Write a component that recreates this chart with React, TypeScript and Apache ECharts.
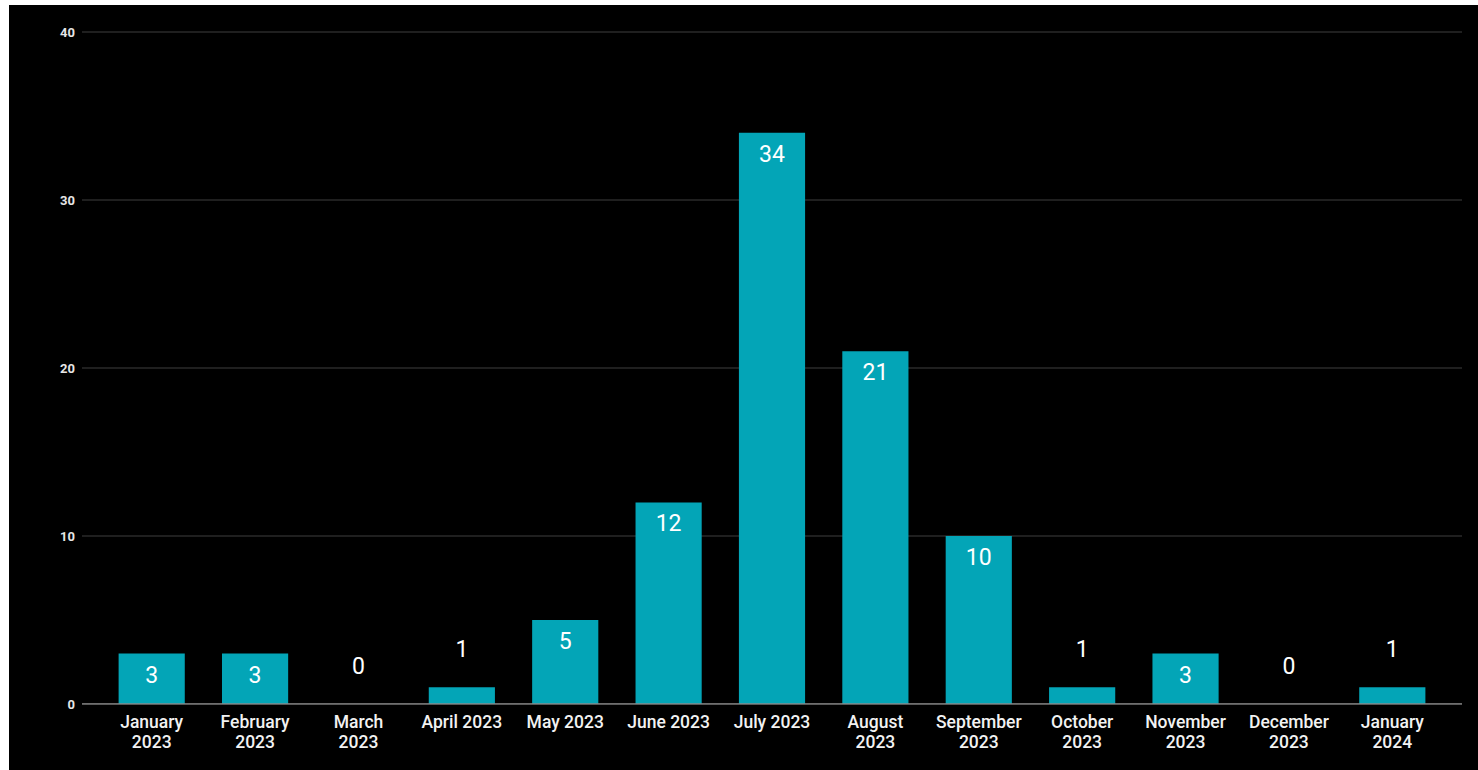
import React, { useEffect, useRef } from "react";
import * as echarts from "echarts";

const categories = [
  "January\n2023",
  "February\n2023",
  "March\n2023",
  "April 2023",
  "May 2023",
  "June 2023",
  "July 2023",
  "August\n2023",
  "September\n2023",
  "October\n2023",
  "November\n2023",
  "December\n2023",
  "January\n2024",
];
const counts = [3, 3, 0, 1, 5, 12, 34, 21, 10, 1, 3, 0, 1];
const yMin = 0;
const yMax = 40;
const yInterval = 10;

export default function App() {
  const ref = useRef<HTMLDivElement>(null);
  useEffect(() => {
    if (!ref.current) return;
    const chart = echarts.init(ref.current, null, { renderer: "svg" });
    const font = "Roboto, 'Noto Sans', sans-serif";
    chart.setOption({
      animation: false,
      backgroundColor: "#000000",
      grid: [
        { left: 73, right: 16, top: 27, bottom: 66 },
        { left: 91, right: 34, top: 27, bottom: 66 },
      ],
      xAxis: [
        {
          gridIndex: 0,
          type: "value",
          min: 0,
          max: 1,
          show: false,
        },
        {
          gridIndex: 1,
          type: "category",
          data: categories,
          axisLine: { show: false },
          axisTick: { show: false },
          axisLabel: {
            color: "#f2f2f2",
            fontFamily: font,
            fontSize: 17.5,
            fontWeight: 500,
            lineHeight: 20,
            margin: 8,
            interval: 0,
          },
        },
      ],
      yAxis: [
        {
          gridIndex: 0,
          type: "value",
          min: yMin,
          max: yMax,
          interval: yInterval,
          axisLine: { show: false },
          axisTick: { show: false },
          axisLabel: {
            color: "#e6e6e6",
            fontFamily: font,
            fontSize: 13,
            fontWeight: "bold",
            margin: 7,
          },
          splitLine: {
            lineStyle: { color: "#2a2a2a", width: 1.5 },
          },
        },
        {
          gridIndex: 1,
          type: "value",
          min: yMin,
          max: yMax,
          interval: yInterval,
          show: false,
        },
      ],
      series: [
        {
          type: "line",
          xAxisIndex: 0,
          yAxisIndex: 0,
          data: [
            [0, 0],
            [1, 0],
          ],
          symbol: "none",
          lineStyle: { color: "#8a8a8a", width: 1.5 },
          silent: true,
          z: 3,
        },
        {
          type: "bar",
          xAxisIndex: 1,
          yAxisIndex: 1,
          barWidth: "64%",
          itemStyle: { color: "#03a5b7" },
          z: 2,
          data: counts.map((v) => ({
            value: v,
            label:
              v < 3
                ? { position: "top", distance: 26 }
                : { position: "insideTop", distance: 10 },
          })),
          label: {
            show: true,
            color: "#ffffff",
            fontFamily: font,
            fontSize: 23,
            fontWeight: "normal",
          },
        },
      ],
    });
    return () => chart.dispose();
  }, []);
  return (
    <div
      style={{
        position: "absolute",
        left: 9,
        top: 5,
        width: 1469,
        height: 765,
        background: "#000",
      }}
    >
      <div ref={ref} style={{ width: 1469, height: 765 }} />
    </div>
  );
}
